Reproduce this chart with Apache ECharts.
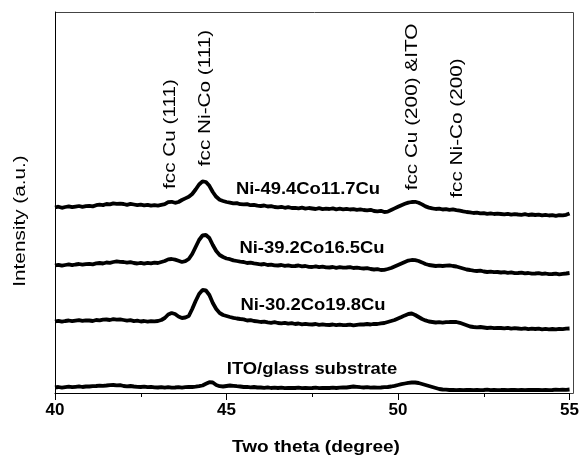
<!DOCTYPE html>
<html><head><meta charset="utf-8">
<script src="https://cdn.jsdelivr.net/npm/echarts@6/dist/echarts.min.js"></script>
<style>html,body{margin:0;padding:0;background:#fff}#c{width:582px;height:460px}</style>
</head><body><div id="c"></div>
<script>
// Two-theta sampling (degree)
const theta = [
40.0,40.1,40.2,40.3,40.4,40.5,40.6,40.7,40.8,40.9,
41.0,41.1,41.2,41.3,41.4,41.5,41.6,41.7,41.8,41.9,
42.0,42.1,42.2,42.3,42.4,42.5,42.6,42.7,42.8,42.9,
43.0,43.1,43.2,43.3,43.4,43.5,43.6,43.7,43.8,43.9,
44.0,44.1,44.2,44.3,44.4,44.5,44.6,44.7,44.8,44.9,
45.0,45.1,45.2,45.3,45.4,45.5,45.6,45.7,45.8,45.9,
46.0,46.1,46.2,46.3,46.4,46.5,46.6,46.7,46.8,46.9,
47.0,47.1,47.2,47.3,47.4,47.5,47.6,47.7,47.8,47.9,
48.0,48.1,48.2,48.3,48.4,48.5,48.6,48.7,48.8,48.9,
49.0,49.1,49.2,49.3,49.4,49.5,49.6,49.7,49.8,49.9,
50.0,50.1,50.2,50.3,50.4,50.5,50.6,50.7,50.8,50.9,
51.0,51.1,51.2,51.3,51.4,51.5,51.6,51.7,51.8,51.9,
52.0,52.1,52.2,52.3,52.4,52.5,52.6,52.7,52.8,52.9,
53.0,53.1,53.2,53.3,53.4,53.5,53.6,53.7,53.8,53.9,
54.0,54.1,54.2,54.3,54.4,54.5,54.6,54.7,54.8,54.9,
55.0];

// Intensity (a.u., stacked offsets as plotted)
const ni494 = [
185.5,186.3,185.2,186.0,186.6,185.8,186.4,187.0,186.2,186.9,
187.2,186.6,187.8,188.3,187.9,189.0,188.6,189.6,189.1,189.4,
189.0,188.2,189.1,188.5,187.8,188.4,187.6,188.2,187.3,187.9,
187.4,188.1,188.8,190.8,191.2,190.2,191.0,193.0,194.6,196.2,
199.0,203.5,208.5,211.6,211.0,207.2,201.0,196.2,193.2,192.0,
191.0,190.4,189.6,189.9,188.8,188.6,188.9,187.8,188.2,187.4,
187.0,187.5,186.5,186.9,186.0,185.6,186.2,185.2,185.8,185.0,
185.2,184.6,185.3,184.4,185.0,184.5,184.0,184.8,183.9,184.3,
184.0,184.6,183.7,184.3,183.6,184.2,183.5,183.9,183.1,183.6,
183.0,182.6,183.2,182.0,181.6,182.2,181.0,181.4,183.0,184.6,
186.2,187.8,189.2,190.4,191.0,191.2,190.2,188.6,186.6,185.4,
184.6,184.0,184.4,183.5,183.9,183.2,183.6,182.9,182.3,181.6,
181.0,180.6,180.0,180.4,179.6,179.9,179.2,179.6,179.0,179.4,
179.0,178.6,179.2,178.4,178.9,178.5,178.2,178.8,178.0,178.5,
178.0,178.4,177.6,178.1,177.5,177.9,177.2,177.8,177.6,178.2,
179.6];

const ni392 = [
127.5,128.2,127.3,128.0,128.6,127.9,128.5,129.0,128.3,128.9,
129.2,128.7,129.6,130.0,129.5,130.5,130.2,131.0,131.6,131.2,
131.0,130.4,130.9,130.0,129.5,130.2,129.4,130.1,129.6,130.3,
130.0,131.0,132.0,133.6,134.0,133.4,132.2,131.0,131.8,134.0,
139.0,146.0,153.0,157.5,158.0,155.0,148.0,142.0,138.0,136.0,
134.5,133.8,132.6,132.0,131.4,131.0,130.0,130.4,129.6,129.2,
128.5,129.0,128.0,128.4,127.6,127.5,128.0,127.2,127.6,126.9,
127.0,127.5,126.6,127.0,126.2,126.0,126.6,125.8,126.3,125.6,
125.5,126.0,125.2,125.8,125.3,125.5,125.9,125.0,125.4,124.8,
124.5,124.9,124.0,123.5,123.9,123.0,123.2,124.0,125.0,126.5,
128.0,129.5,131.0,132.4,133.0,132.8,132.0,130.6,129.0,128.0,
127.5,127.0,127.4,127.0,127.3,127.6,127.0,126.5,125.5,124.5,
123.5,123.0,122.4,122.0,122.3,121.5,121.0,121.4,120.8,121.0,
120.5,120.9,120.2,120.6,119.9,120.0,120.4,119.6,120.0,119.4,
119.5,119.9,119.2,119.5,118.9,119.0,119.4,118.7,119.1,119.5,
120.0];

const ni302 = [
71.5,72.2,71.3,72.0,72.5,71.8,72.3,72.8,72.1,72.6,
72.5,72.0,73.0,72.6,73.4,73.5,73.0,73.8,73.4,73.6,
73.0,72.4,72.8,71.9,72.3,71.5,72.0,71.4,71.9,71.6,
72.0,73.0,75.0,78.5,80.0,79.0,76.5,75.0,75.5,77.0,
84.0,92.0,99.0,103.0,102.5,98.0,90.0,84.0,80.0,78.0,
77.0,76.0,75.2,74.5,74.0,73.6,72.5,72.9,72.0,71.6,
71.0,71.4,70.6,70.2,70.8,70.0,69.6,70.2,69.4,69.8,
69.0,69.5,68.7,69.2,68.6,68.5,69.0,68.2,68.6,68.1,
68.0,68.5,67.8,68.3,67.9,68.0,68.4,67.7,68.2,68.6,
68.5,69.0,68.5,69.2,69.0,69.6,70.0,71.0,72.0,73.0,
74.5,76.0,77.6,79.0,79.5,78.0,76.0,74.0,72.6,71.5,
71.0,70.5,70.8,70.4,70.9,71.0,71.2,71.0,70.2,69.0,
67.8,66.5,66.0,65.6,66.0,65.5,65.0,65.4,64.8,65.2,
65.0,64.6,65.2,64.4,64.8,64.5,64.2,64.7,63.9,64.3,
64.0,64.4,63.6,64.1,63.7,64.0,63.6,64.2,63.8,64.3,
64.5];

const itoGlass = [
5.5,6.0,5.4,5.9,6.3,5.8,6.2,6.6,6.0,6.5,
6.5,6.9,7.0,7.4,7.2,7.5,7.9,8.0,7.6,7.8,
7.0,6.6,7.0,6.5,6.2,6.0,6.4,5.8,6.1,5.6,
5.5,5.9,5.4,5.8,5.3,5.5,5.9,5.4,5.8,6.0,
6.0,6.3,6.8,7.5,9.2,10.8,10.5,8.0,6.8,6.5,
7.0,7.5,7.2,6.8,6.5,6.0,6.2,5.7,6.0,5.5,
5.5,5.2,5.6,5.0,5.3,5.0,5.4,4.9,5.2,5.0,
5.0,5.3,4.9,5.2,4.8,5.0,5.3,4.9,5.1,5.0,
5.0,5.3,5.0,5.4,5.6,5.5,6.0,6.5,6.2,5.8,
5.5,5.8,5.3,5.6,5.4,5.5,5.8,6.0,6.5,7.2,
8.0,8.8,9.5,10.2,10.5,10.5,10.0,9.0,8.0,7.0,
6.0,5.0,4.0,3.5,3.3,3.0,3.2,2.9,3.1,2.8,
3.0,3.2,2.8,3.1,2.9,3.0,3.3,2.8,3.0,2.9,
3.0,3.2,2.8,3.1,3.0,2.9,3.2,2.8,3.1,3.0,
3.0,3.2,2.9,3.1,2.8,3.0,3.3,3.1,3.4,3.2,
3.5];

const sampleNames = ['Ni-49.4Co11.7Cu','Ni-39.2Co16.5Cu','Ni-30.2Co19.8Cu','ITO/glass substrate'];
const peakNames = ['fcc Cu (111)','fcc Ni-Co (111)','fcc Cu (200) &ITO','fcc Ni-Co (200)'];
const xTickValues = [40,45,50,55];
const xTitle = 'Two theta (degree)';
const yTitle = 'Intensity (a.u.)';

const seriesValues = [ni494, ni392, ni302, itoGlass];

const chart = echarts.init(document.getElementById('c'), null, {renderer:'canvas'});
const FONT = 'Arial, "Liberation Sans", sans-serif';

const G = {left:55, top:12, right:573, bottom:393};
const samplePos = [[308,190],[312,249],[313,306],[312,370]];
const peakPos = [[170,134],[205,98],[412,107],[457,128]];

const graphics = [{type:'rect', z:-1, silent:true,
  shape:{x:G.left+0.5, y:G.top+0.5, width:G.right-G.left, height:G.bottom-G.top},
  style:{fill:'none', stroke:'#444', lineWidth:1}}];
sampleNames.forEach((t,i)=>{
  graphics.push({type:'text', x:samplePos[i][0], y:samplePos[i][1], scaleX:1.15,
    style:{text:t, font:'bold 16px '+FONT, fill:'#000', textAlign:'center', textVerticalAlign:'middle'}});
});
peakNames.forEach((t,i)=>{
  graphics.push({type:'text', x:peakPos[i][0], y:peakPos[i][1], rotation:Math.PI/2, scaleX:1.22,
    style:{text:t, font:'17px '+FONT, fill:'#000', textAlign:'center', textVerticalAlign:'middle'}});
});
graphics.push({type:'text', x:316, y:447, scaleX:1.12,
  style:{text:xTitle, font:'bold 17px '+FONT, fill:'#000', textAlign:'center', textVerticalAlign:'middle'}});
graphics.push({type:'text', x:20, y:221, rotation:Math.PI/2, scaleX:1.22,
  style:{text:yTitle, font:'17px '+FONT, fill:'#000', textAlign:'center', textVerticalAlign:'middle'}});

chart.setOption({
  animation:false,
  backgroundColor:'#fff',
  grid:{left:G.left, right:582-G.right, top:G.top, bottom:460-G.bottom},
  xAxis:{type:'value', min:40, max:55, interval:5,
    axisLine:{onZero:false, lineStyle:{color:'#000', width:1}},
    axisTick:{show:true, inside:false, length:7, lineStyle:{color:'#000'}},
    minorTick:{show:true, splitNumber:2, length:4, lineStyle:{color:'#000'}},
    splitLine:{show:false},
    axisLabel:{margin:9, color:'#000', fontSize:17, fontWeight:'bold', fontFamily:FONT,
      formatter:v=> xTickValues.includes(v) ? String(v) : ''}},
  yAxis:{type:'value', min:0, max:381,
    axisLine:{show:true, onZero:false, lineStyle:{color:'#000', width:1}},
    axisTick:{show:false}, axisLabel:{show:false}, splitLine:{show:false}},
  graphic:graphics,
  series: seriesValues.map((vals,k)=>({
    name:sampleNames[k], type:'line', showSymbol:false, symbol:'none',
    lineStyle:{color:'#000', width:3.8}, z:3,
    data: theta.map((t,i)=>[t, vals[i]])
  }))
});
</script></body></html>
